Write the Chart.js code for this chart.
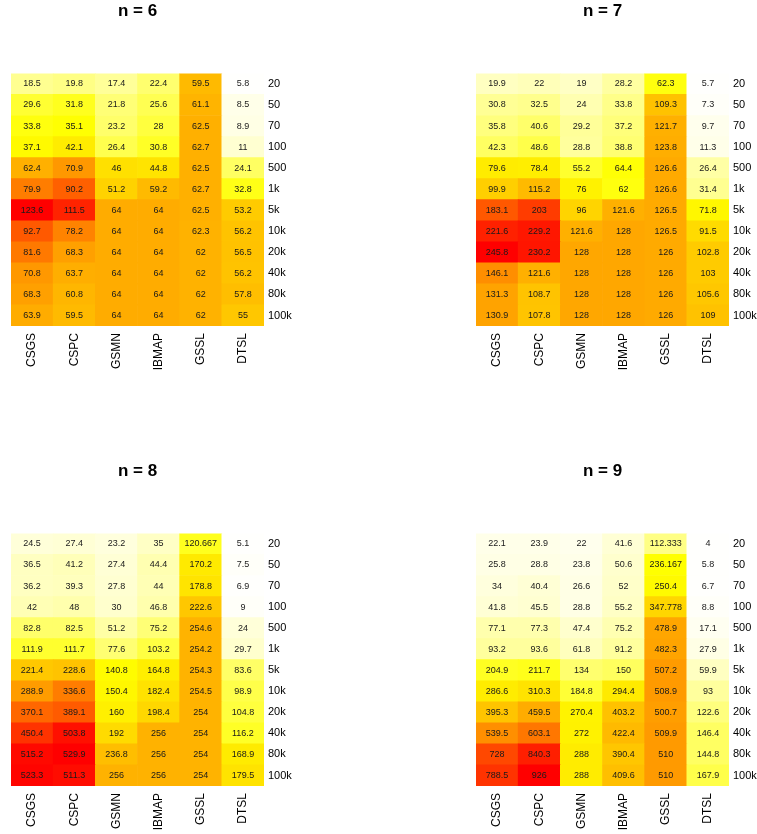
<!DOCTYPE html>
<html>
<head>
<meta charset="utf-8">
<script src="https://cdn.jsdelivr.net/npm/chart.js"></script>
<style>
  html, body { margin: 0; padding: 0; background: #fff; overflow: hidden; }
  .panel { position: absolute; }
</style>
</head>
<body>
<div class="panel" style="left:0px;top:0px"><canvas id="c6" width="300" height="374"></canvas></div>
<div class="panel" style="left:465px;top:0px"><canvas id="c7" width="292" height="374"></canvas></div>
<div class="panel" style="left:0px;top:460px"><canvas id="c8" width="300" height="374"></canvas></div>
<div class="panel" style="left:465px;top:460px"><canvas id="c9" width="292" height="374"></canvas></div>
<script>
// column and row labels
const methods = ["CSGS", "CSPC", "GSMN", "IBMAP", "GSSL", "DTSL"];
const sizes = ["20", "50", "70", "100", "500", "1k", "5k", "10k", "20k", "40k", "80k", "100k"];

// one row per sample size, one value per method
const n6 = [
  [18.5, 19.8, 17.4, 22.4, 59.5, 5.8],
  [29.6, 31.8, 21.8, 25.6, 61.1, 8.5],
  [33.8, 35.1, 23.2, 28, 62.5, 8.9],
  [37.1, 42.1, 26.4, 30.8, 62.7, 11],
  [62.4, 70.9, 46, 44.8, 62.5, 24.1],
  [79.9, 90.2, 51.2, 59.2, 62.7, 32.8],
  [123.6, 111.5, 64, 64, 62.5, 53.2],
  [92.7, 78.2, 64, 64, 62.3, 56.2],
  [81.6, 68.3, 64, 64, 62, 56.5],
  [70.8, 63.7, 64, 64, 62, 56.2],
  [68.3, 60.8, 64, 64, 62, 57.8],
  [63.9, 59.5, 64, 64, 62, 55]
];
const n7 = [
  [19.9, 22, 19, 28.2, 62.3, 5.7],
  [30.8, 32.5, 24, 33.8, 109.3, 7.3],
  [35.8, 40.6, 29.2, 37.2, 121.7, 9.7],
  [42.3, 48.6, 28.8, 38.8, 123.8, 11.3],
  [79.6, 78.4, 55.2, 64.4, 126.6, 26.4],
  [99.9, 115.2, 76, 62, 126.6, 31.4],
  [183.1, 203, 96, 121.6, 126.5, 71.8],
  [221.6, 229.2, 121.6, 128, 126.5, 91.5],
  [245.8, 230.2, 128, 128, 126, 102.8],
  [146.1, 121.6, 128, 128, 126, 103],
  [131.3, 108.7, 128, 128, 126, 105.6],
  [130.9, 107.8, 128, 128, 126, 109]
];
const n8 = [
  [24.5, 27.4, 23.2, 35, 120.667, 5.1],
  [36.5, 41.2, 27.4, 44.4, 170.2, 7.5],
  [36.2, 39.3, 27.8, 44, 178.8, 6.9],
  [42, 48, 30, 46.8, 222.6, 9],
  [82.8, 82.5, 51.2, 75.2, 254.6, 24],
  [111.9, 111.7, 77.6, 103.2, 254.2, 29.7],
  [221.4, 228.6, 140.8, 164.8, 254.3, 83.6],
  [288.9, 336.6, 150.4, 182.4, 254.5, 98.9],
  [370.1, 389.1, 160, 198.4, 254, 104.8],
  [450.4, 503.8, 192, 256, 254, 116.2],
  [515.2, 529.9, 236.8, 256, 254, 168.9],
  [523.3, 511.3, 256, 256, 254, 179.5]
];
const n9 = [
  [22.1, 23.9, 22, 41.6, 112.333, 4],
  [25.8, 28.8, 23.8, 50.6, 236.167, 5.8],
  [34, 40.4, 26.6, 52, 250.4, 6.7],
  [41.8, 45.5, 28.8, 55.2, 347.778, 8.8],
  [77.1, 77.3, 47.4, 75.2, 478.9, 17.1],
  [93.2, 93.6, 61.8, 91.2, 482.3, 27.9],
  [204.9, 211.7, 134, 150, 507.2, 59.9],
  [286.6, 310.3, 184.8, 294.4, 508.9, 93],
  [395.3, 459.5, 270.4, 403.2, 500.7, 122.6],
  [539.5, 603.1, 272, 422.4, 509.9, 146.4],
  [728, 840.3, 288, 390.4, 510, 144.8],
  [788.5, 926, 288, 409.6, 510, 167.9]
];

const FONT = '"Liberation Sans", Arial, Helvetica, sans-serif';
Chart.defaults.font.family = FONT;
Chart.defaults.color = "#000";

// hsv -> css rgb
function hsv(h, s, v) {
  const i = Math.floor(h * 6), f = h * 6 - i;
  const p = v * (1 - s), q = v * (1 - f * s), t = v * (1 - (1 - f) * s);
  const m = [[v, t, p], [q, v, p], [p, v, t], [p, q, v], [t, p, v], [v, p, q]][i % 6];
  return "rgb(" + m.map(c => Math.round(c * 255)).join(",") + ")";
}

// like R's rev(heat.colors(n)): near white -> yellow -> red
function heatColors(n) {
  const j = Math.floor(n / 4), i = n - j;
  const cols = [];
  for (let k = 0; k < i; k++) cols.push(hsv((k / (i - 1)) / 6, 1, 1));
  for (let k = 0; k < j; k++) {
    const s = (1 - 1 / (2 * j)) - k * ((1 - 1 / j) / Math.max(1, j - 1));
    cols.push(hsv(1 / 6, s, 1));
  }
  return cols.reverse();
}
const palette = heatColors(256);

function colorFor(v, lo, hi) {
  let k = Math.floor((v - lo) / (hi - lo) * palette.length);
  if (k >= palette.length) k = palette.length - 1;
  if (k < 0) k = 0;
  return palette[k];
}

// draws the value in the middle of every cell
const cellText = {
  id: "cellText",
  afterDatasetsDraw(chart) {
    const ctx = chart.ctx;
    ctx.save();
    ctx.font = "9px " + FONT;
    ctx.fillStyle = "#1a1a1a";
    ctx.textAlign = "center";
    ctx.textBaseline = "middle";
    chart.data.datasets.forEach((ds, d) => {
      chart.getDatasetMeta(d).data.forEach((bar, m) => {
        ctx.fillText(String(ds.values[m]), bar.x, (bar.y + bar.base) / 2);
      });
    });
    ctx.restore();
  }
};

function makeHeatmap(id, title, rows) {
  const canvas = document.getElementById(id);
  const flat = rows.flat();
  const lo = Math.min(...flat), hi = Math.max(...flat);
  const axisW = canvas.width - 264;

  // bottom row first so "20" ends up on top of the stack
  const datasets = rows.map((row, r) => ({
    label: sizes[r],
    values: row,
    data: row.map(() => 1),
    backgroundColor: row.map(v => colorFor(v, lo, hi)),
    borderWidth: 0,
    barPercentage: 1,
    categoryPercentage: 1
  })).reverse();

  return new Chart(canvas, {
    type: "bar",
    data: { labels: methods, datasets: datasets },
    options: {
      responsive: false,
      animation: false,
      devicePixelRatio: 1,
      layout: { padding: { left: 11, right: 0, top: 0, bottom: 0 } },
      plugins: {
        legend: { display: false },
        tooltip: { enabled: false },
        title: {
          display: true,
          text: title,
          fullSize: false,
          color: "#000",
          font: { size: 17, weight: "bold" },
          padding: { top: 1, bottom: 52 }
        }
      },
      scales: {
        x: {
          stacked: true,
          grid: { display: false, drawTicks: false },
          border: { display: false },
          ticks: {
            autoSkip: false,
            minRotation: 90,
            maxRotation: 90,
            padding: 7,
            font: { size: 12 },
            color: "#000"
          },
          afterFit(scale) { scale.height = 48; }
        },
        y: {
          stacked: true,
          position: "right",
          min: 0,
          max: sizes.length,
          grid: { display: false, drawTicks: false },
          border: { display: false },
          afterBuildTicks(scale) {
            scale.ticks = sizes.map((s, r) => ({ value: sizes.length - r - 0.5 }));
          },
          ticks: {
            autoSkip: false,
            padding: 4,
            font: { size: 11 },
            color: "#000",
            callback: v => sizes[sizes.length - 1 - Math.floor(v)]
          },
          afterFit(scale) { scale.width = axisW; }
        }
      }
    },
    plugins: [cellText]
  });
}

makeHeatmap("c6", "n = 6", n6);
makeHeatmap("c7", "n = 7", n7);
makeHeatmap("c8", "n = 8", n8);
makeHeatmap("c9", "n = 9", n9);
</script>
</body>
</html>
